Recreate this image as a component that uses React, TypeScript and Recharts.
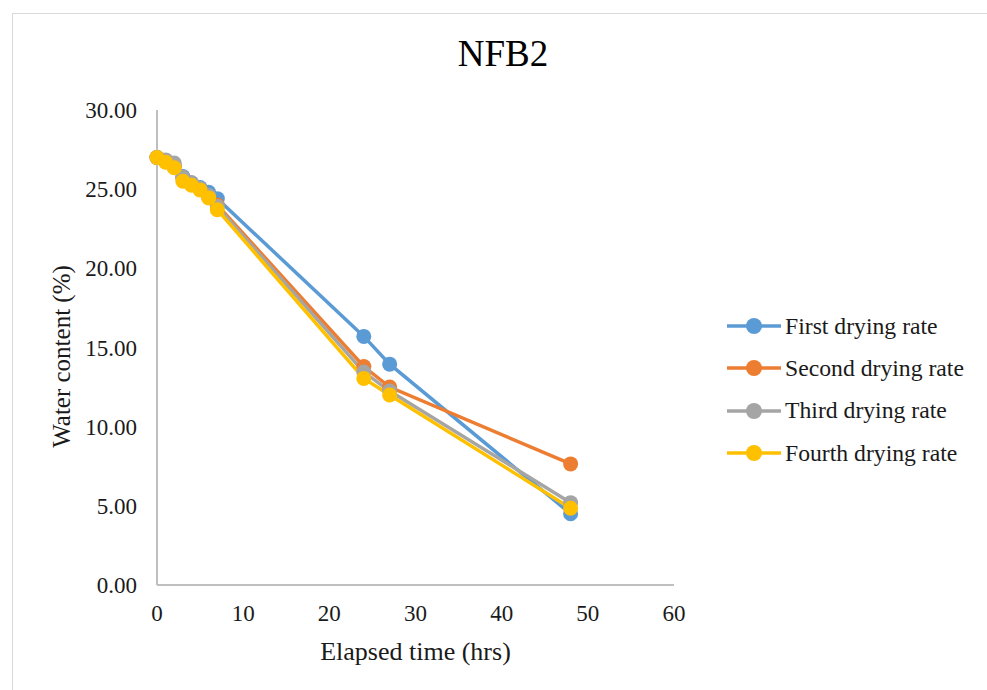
import React from "react";
import { Label, Line, LineChart, XAxis, YAxis } from "recharts";

const FONT = '"Liberation Serif", "Times New Roman", serif';

const HOURS = [0, 1, 2, 3, 4, 5, 6, 7, 24, 27, 48];
const FIRST = [27.0, 26.8, 26.5, 25.8, 25.4, 25.1, 24.8, 24.4, 15.7, 13.95, 4.5];
const SECOND = [27.0, 26.75, 26.4, 25.7, 25.3, 25.0, 24.5, 24.0, 13.8, 12.5, 7.65];
const THIRD = [27.0, 26.85, 26.65, 25.75, 25.4, 25.05, 24.6, 23.9, 13.45, 12.25, 5.2];
const FOURTH = [27.0, 26.7, 26.35, 25.5, 25.25, 24.95, 24.45, 23.7, 13.05, 12.0, 4.85];

const X_TICKS = [0, 10, 20, 30, 40, 50, 60];
const Y_TICKS = [0, 5, 10, 15, 20, 25, 30];

const SERIES = [
  { key: "first", name: "First drying rate", color: "#5B9BD5", values: FIRST },
  { key: "second", name: "Second drying rate", color: "#ED7D31", values: SECOND },
  { key: "third", name: "Third drying rate", color: "#A5A5A5", values: THIRD },
  { key: "fourth", name: "Fourth drying rate", color: "#FFC000", values: FOURTH },
];

const rows = HOURS.map((h, i) => {
  const row: Record<string, number> = { hours: h };
  SERIES.forEach((s) => {
    row[s.key] = s.values[i];
  });
  return row;
});

// legend sits to the right of the plot, one row per series
function LegendRows() {
  return (
    <div
      style={{
        position: "absolute",
        left: 727,
        top: 305,
        fontFamily: FONT,
        fontSize: 23.7,
        color: "#1a1a1a",
      }}
    >
      {SERIES.map((s) => (
        <div key={s.key} style={{ display: "flex", alignItems: "center", height: 42.3 }}>
          <svg width={56} height={20} style={{ marginRight: 2 }}>
            <line x1={0} y1={10} x2={54} y2={10} stroke={s.color} strokeWidth={3.5} />
            <circle cx={27} cy={10} r={8} fill={s.color} />
          </svg>
          <span>{s.name}</span>
        </div>
      ))}
    </div>
  );
}

export default function App() {
  return (
    <div
      style={{
        position: "absolute",
        left: 0,
        top: 0,
        width: 987,
        height: 690,
        overflow: "hidden",
        background: "#fff",
      }}
    >
      <div
        style={{
          position: "absolute",
          left: 12,
          top: 13,
          width: 1000,
          height: 700,
          border: "1.5px solid #d9d9d9",
        }}
      />
      <div
        style={{
          position: "absolute",
          left: 12,
          top: 32,
          width: 982,
          textAlign: "center",
          fontFamily: FONT,
          fontSize: 37,
          color: "#000",
        }}
      >
        NFB2
      </div>
      <div style={{ position: "absolute", left: 0, top: 0 }}>
        <LineChart
          width={987}
          height={690}
          data={rows}
          margin={{ top: 110, right: 313, bottom: 45, left: 57 }}
        >
          <XAxis
            dataKey="hours"
            type="number"
            domain={[0, 60]}
            ticks={X_TICKS}
            height={60}
            tickSize={0}
            tickMargin={20}
            axisLine={{ stroke: "#bfbfbf", strokeWidth: 2 }}
            tick={{ fontFamily: FONT, fontSize: 23, fill: "#1a1a1a" }}
          >
            <Label
              content={({ viewBox }: any) => (
                <text
                  x={viewBox.x + viewBox.width / 2}
                  y={viewBox.y + 75}
                  textAnchor="middle"
                  fontFamily={FONT}
                  fontSize={26}
                  fill="#1a1a1a"
                >
                  Elapsed time (hrs)
                </text>
              )}
            />
          </XAxis>
          <YAxis
            type="number"
            domain={[0, 30]}
            ticks={Y_TICKS}
            width={100}
            tickSize={0}
            tickMargin={20}
            tickFormatter={(v: number) => v.toFixed(2)}
            axisLine={{ stroke: "#bfbfbf", strokeWidth: 2 }}
            tick={{ fontFamily: FONT, fontSize: 23, fill: "#1a1a1a" }}
          >
            <Label
              content={({ viewBox }: any) => {
                const cx = 70;
                const cy = viewBox.y + viewBox.height / 2 + 9;
                return (
                  <text
                    x={cx}
                    y={cy}
                    transform={`rotate(-90 ${cx} ${cy})`}
                    textAnchor="middle"
                    fontFamily={FONT}
                    fontSize={25}
                    fill="#1a1a1a"
                  >
                    Water content (%)
                  </text>
                );
              }}
            />
          </YAxis>
          {SERIES.map((s) => (
            <Line
              key={s.key}
              dataKey={s.key}
              name={s.name}
              type="linear"
              stroke={s.color}
              strokeWidth={3.5}
              dot={{ r: 7.5, fill: s.color, stroke: s.color, strokeWidth: 0 }}
              activeDot={false}
              isAnimationActive={false}
            />
          ))}
        </LineChart>
      </div>
      <LegendRows />
    </div>
  );
}
